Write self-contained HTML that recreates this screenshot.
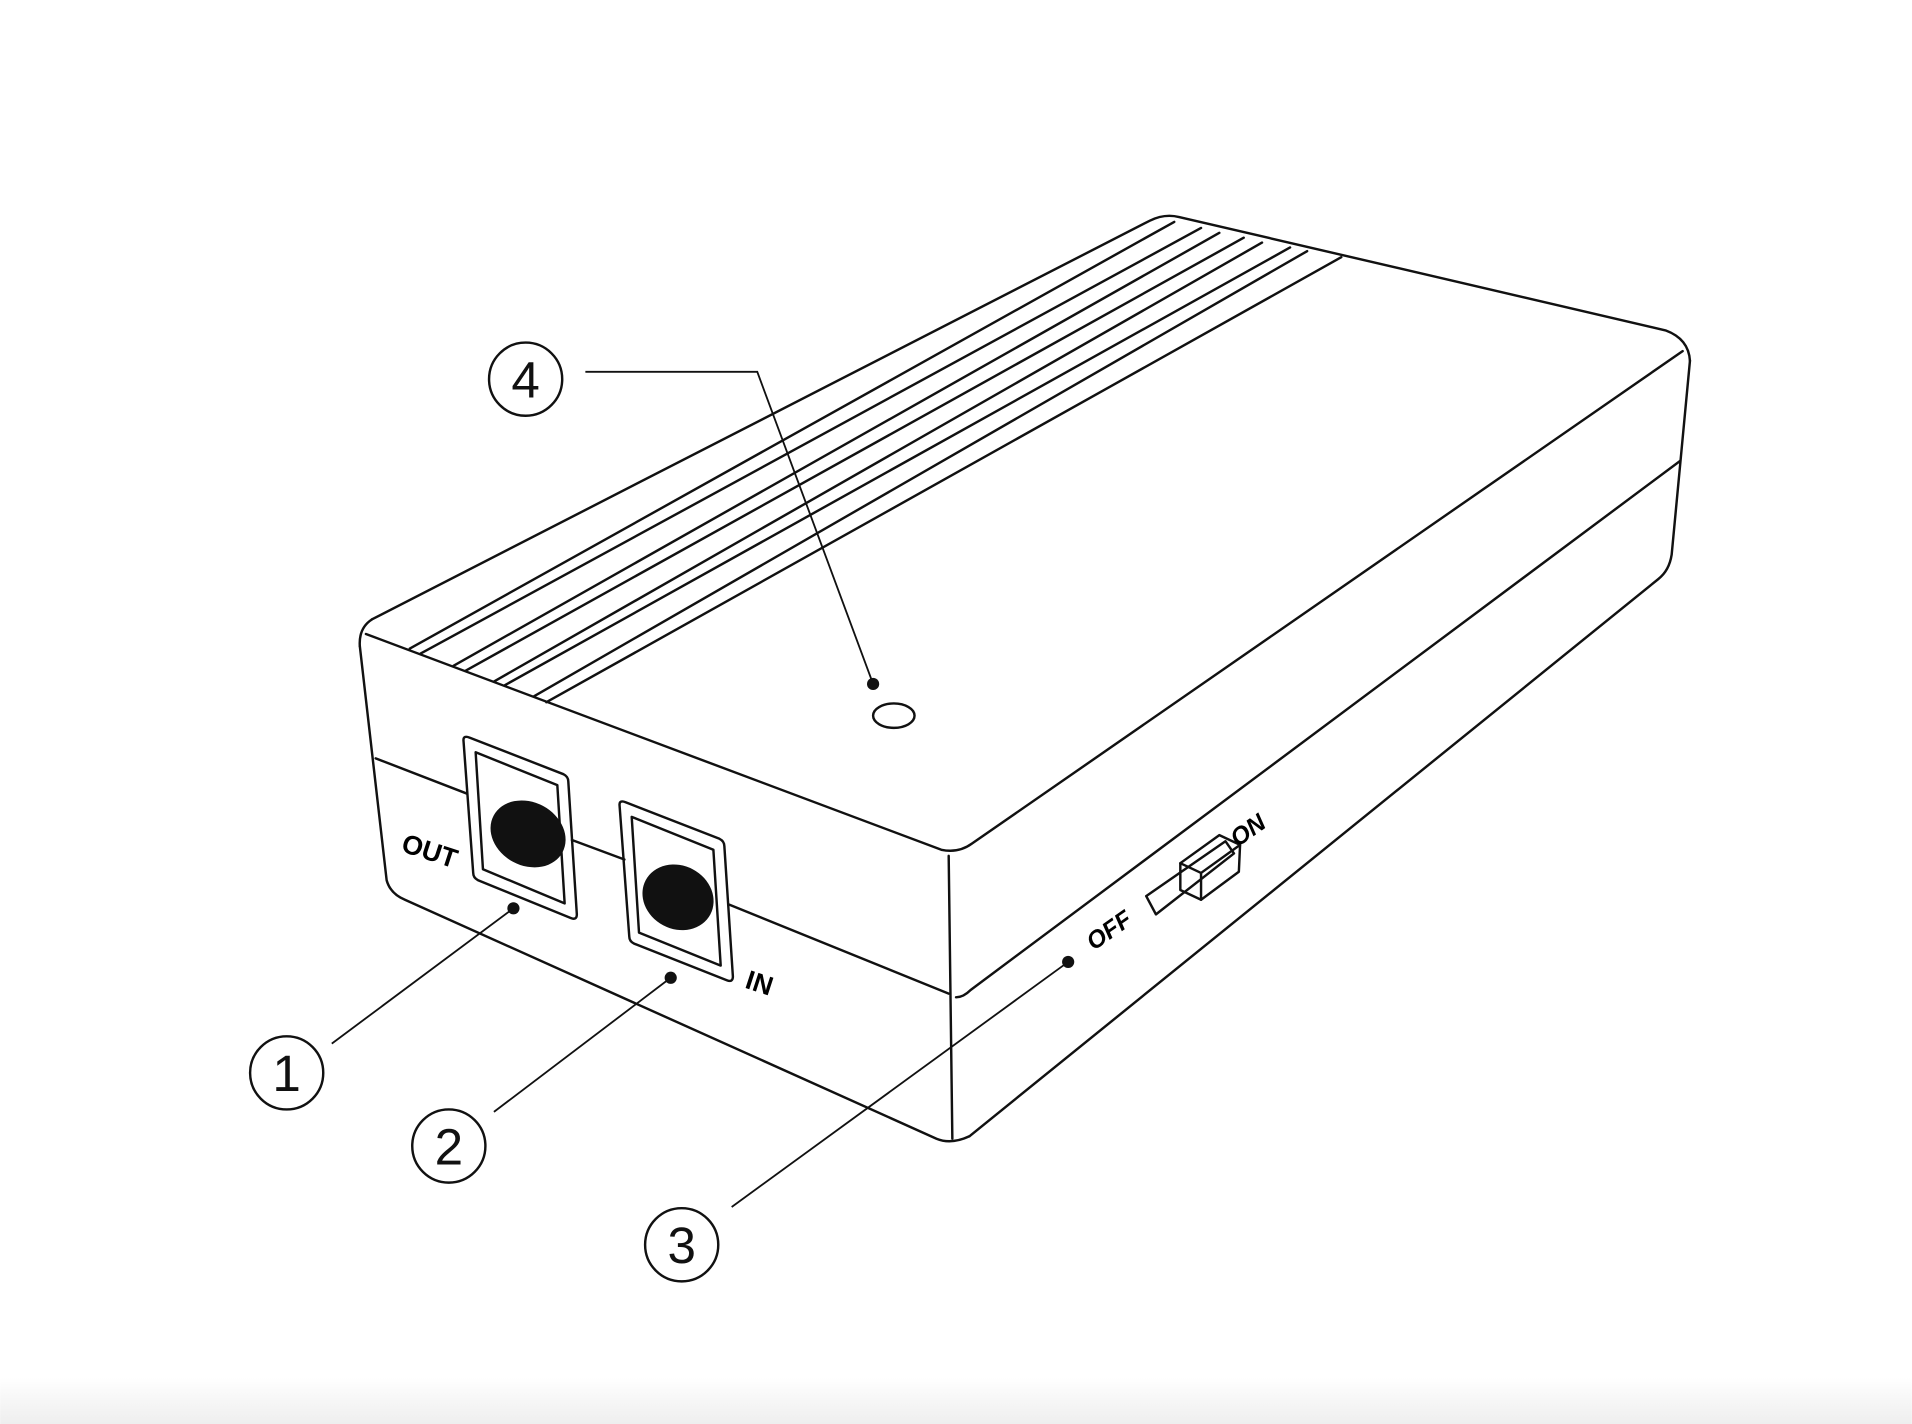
<!DOCTYPE html>
<html><head><meta charset="utf-8">
<style>
html,body{margin:0;padding:0;background:#fff;}
svg{display:block;}
text{font-family:"Liberation Sans",sans-serif;}
</style></head>
<body>
<svg width="1912" height="1424" viewBox="0 0 1568 1168" xmlns="http://www.w3.org/2000/svg">
<defs><linearGradient id="bg" x1="0" y1="0" x2="0" y2="1"><stop offset="0" stop-color="#fff"/><stop offset="1" stop-color="#eee"/></linearGradient></defs>
<rect x="0" y="1130" width="1568" height="38" fill="url(#bg)"/>
<g fill="none" stroke="#111" stroke-width="2" stroke-linejoin="round" stroke-linecap="round">
  <!-- top face -->
  <path d="M305,508 L943,181 Q955,175 967,178 L1366,271 Q1385,278 1386,296"/>
  <path d="M300,520 L772,697 Q786,700 797,692 L1380,288"/>
  <path d="M305,508 Q294,515 295,530"/>
  <!-- front face -->
  <path d="M295,530 L317,722 Q320,733 332,738 L768,934 Q780,939 795,932"/>
  <line x1="778" y1="702" x2="781" y2="934"/>
  <!-- right face -->
  <path d="M1386,296 L1371,455 Q1369,468 1360,475 L795,932"/>
  <path d="M308,622 L383,651"/>
  <path d="M469,689 L512,705"/>
  <path d="M598,742 L778,815"/>
  <path d="M784,818 Q790,818 796,812 L1378,378"/>
  <!-- ridges -->
  <line x1="336" y1="532" x2="963" y2="182"/>
  <line x1="345" y1="536" x2="985" y2="187"/>
  <line x1="372" y1="546" x2="1000" y2="191"/>
  <line x1="382" y1="550" x2="1020" y2="195"/>
  <line x1="405" y1="559" x2="1035" y2="199"/>
  <line x1="414" y1="562" x2="1058" y2="203"/>
  <line x1="438" y1="571" x2="1072" y2="206"/>
  <line x1="448" y1="576" x2="1100" y2="211"/>
  <!-- LED -->
  <ellipse cx="733" cy="587" rx="17" ry="10"/>
  <!-- OUT port -->
  <path d="M380,607 Q380,603 385,605 L462,635 Q466,637 466,641 L473,750 Q473,755 468,753 L392,722 Q388,720 388,716 Z"/>
  <path d="M390,617 L457,644 L463,741 L396,713 Z"/>
  <!-- IN port -->
  <path d="M508,660 Q508,656 513,658 L590,688 Q594,690 594,694 L601,801 Q601,806 596,804 L520,774 Q516,772 516,768 Z"/>
  <path d="M518,670 L585,697 L591,792 L524,765 Z"/>
  <!-- switch -->
  <path d="M940,735 L1005,690 L1012,700 L948,750 Z"/>
  <path d="M968,708 L1000,685 L1017,693 L1016,715 L985,738 L968,730 Z"/>
  <path d="M968,708 L985,716 L1017,693"/>
  <line x1="985" y1="716" x2="985" y2="738"/>
</g>
<ellipse cx="433" cy="684" rx="32" ry="26" transform="rotate(28 433 684)" fill="#111"/>
<ellipse cx="556" cy="736" rx="30" ry="26" transform="rotate(28 556 736)" fill="#111"/>
<text x="328" y="698" font-size="22" font-weight="bold" transform="rotate(18 328 698)">OUT</text>
<text x="610" y="810" font-size="22" font-weight="bold" transform="rotate(18 610 810)">IN</text>
<text x="897" y="780" font-size="20" font-weight="bold" font-style="italic" transform="rotate(-35 897 780)">OFF</text>
<text x="1015" y="695" font-size="20" font-weight="bold" font-style="italic" transform="rotate(-35 1015 695)">ON</text>
<g fill="none" stroke="#111" stroke-width="1.5">
  <polyline points="480,305 621,305 716,561"/>
  <line x1="272" y1="856" x2="421" y2="745"/>
  <line x1="405" y1="912" x2="550" y2="802"/>
  <line x1="600" y1="990" x2="876" y2="789"/>
  <circle cx="431" cy="311" r="30" stroke-width="2"/>
  <circle cx="235" cy="880" r="30" stroke-width="2"/>
  <circle cx="368" cy="940" r="30" stroke-width="2"/>
  <circle cx="559" cy="1021" r="30" stroke-width="2"/>
</g>
<g fill="#111">
  <circle cx="716" cy="561" r="5"/><circle cx="421" cy="745" r="5"/>
  <circle cx="550" cy="802" r="5"/><circle cx="876" cy="789" r="5"/>
</g>
<g font-size="42" text-anchor="middle" fill="#111">
  <text x="431" y="326">4</text>
  <text x="235" y="895">1</text>
  <text x="368" y="955">2</text>
  <text x="559" y="1036">3</text>
</g>
</svg>
</body></html>
